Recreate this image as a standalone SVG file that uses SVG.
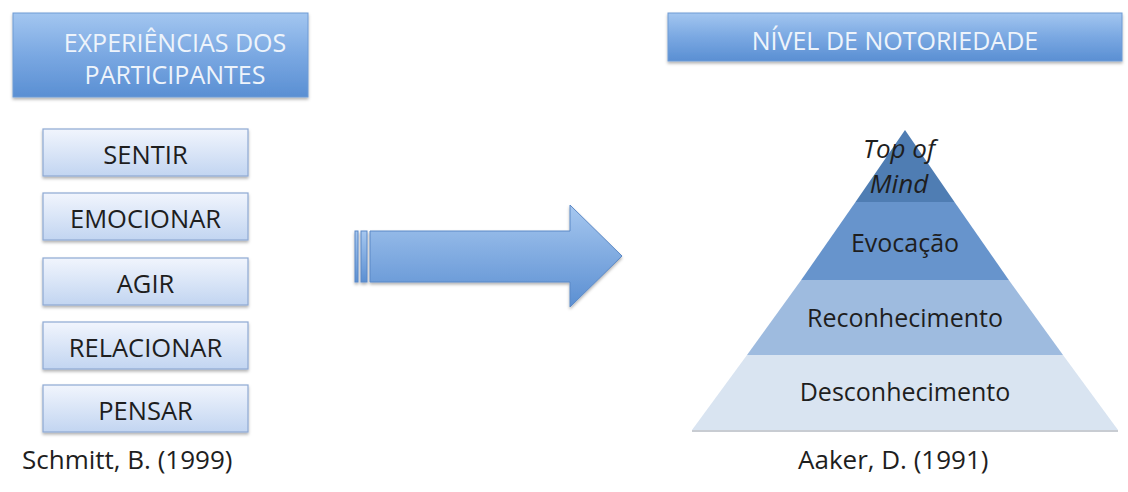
<svg xmlns="http://www.w3.org/2000/svg" width="1128" height="492" viewBox="0 0 1128 492">
<defs>
<linearGradient id="hdr" x1="0" y1="0" x2="0" y2="1">
<stop offset="0" stop-color="#a3c6f0"/>
<stop offset="0.5" stop-color="#7aa8e2"/>
<stop offset="1" stop-color="#5a8fd3"/>
</linearGradient>
<linearGradient id="box" x1="0" y1="0" x2="0" y2="1">
<stop offset="0" stop-color="#f1f5fd"/>
<stop offset="1" stop-color="#c2d5f1"/>
</linearGradient>
<linearGradient id="arr" x1="0" y1="0" x2="0" y2="1">
<stop offset="0" stop-color="#a6c7ef"/>
<stop offset="1" stop-color="#5b8fd2"/>
</linearGradient>
<filter id="sh" x="-10%" y="-20%" width="120%" height="150%">
<feDropShadow dx="0" dy="2" stdDeviation="1.5" flood-color="#000" flood-opacity="0.3"/>
</filter>
</defs>
<style>
text{font-family:"Open Sans","Liberation Sans",sans-serif;text-anchor:middle}
.h{fill:#eef4fb;font-size:25px}
.b{fill:#1e1e1e;font-size:25.5px}
.p{fill:#1e1e1e;font-size:25px}
.i{fill:#1e1e1e;font-size:26px;font-style:italic}
.c{fill:#1e1e1e;font-size:26px;text-anchor:start}
.hb{fill:url(#hdr);stroke:#6f9bd4;stroke-width:1;filter:url(#sh)}
.sb{fill:url(#box);stroke:#8ea9d3;stroke-width:1.2;filter:url(#sh)}
</style>
<g id="header-left">
<rect class="hb" x="13" y="13" width="295" height="84"/>
<text class="h" x="175" y="52">EXPERIÊNCIAS DOS</text>
<text class="h" x="175" y="84">PARTICIPANTES</text>
</g>
<g id="header-right">
<rect class="hb" x="668" y="13" width="454" height="48"/>
<text class="h" x="895" y="50" font-size="24.5">NÍVEL DE NOTORIEDADE</text>
</g>
<g id="sentir">
<rect class="sb" x="43" y="129" width="205" height="47"/>
<text class="b" x="145.5" y="164">SENTIR</text>
</g>
<g id="emocionar">
<rect class="sb" x="43" y="193" width="205" height="47"/>
<text class="b" x="145.5" y="228">EMOCIONAR</text>
</g>
<g id="agir">
<rect class="sb" x="43" y="258" width="205" height="47"/>
<text class="b" x="145.5" y="293">AGIR</text>
</g>
<g id="relacionar">
<rect class="sb" x="43" y="322" width="205" height="47"/>
<text class="b" x="145.5" y="357">RELACIONAR</text>
</g>
<g id="pensar">
<rect class="sb" x="43" y="385" width="205" height="47"/>
<text class="b" x="145.5" y="420">PENSAR</text>
</g>
<g id="connectors">
<g filter="url(#sh)" fill="url(#arr)" stroke="#5a88c6" stroke-width="1">
<rect x="355" y="231" width="3" height="51"/>
<rect x="361" y="231" width="6" height="51"/>
<path d="M370 231 H570 V205 L622 256 L570 307 V282 H370 Z"/>
</g>
</g>
<g id="pyramid">
<g id="top-of-mind">
<path d="M905 130 L954.5 202 L855.5 202 Z" fill="#4f7db3"/>
<text class="i" x="899" y="158">Top of</text>
<text class="i" x="899" y="193">Mind</text>
</g>
<g id="evocacao">
<path d="M855.5 202 H954.5 L1008.8 280 H801.2 Z" fill="#6794cc"/>
<text class="p" x="905" y="252">Evocação</text>
</g>
<g id="reconhecimento">
<path d="M801.2 280 H1008.8 L1063.0 355 H747.0 Z" fill="#9ebbdf"/>
<text class="p" x="905" y="327">Reconhecimento</text>
</g>
<g id="desconhecimento">
<path d="M747.0 355 H1063.0 L1118 430 H692 Z" fill="#d9e4f1"/>
<text class="p" x="905" y="401">Desconhecimento</text>
</g>
<line x1="692" y1="431" x2="1118" y2="431" stroke="#c8ccd2" stroke-width="2"/>
</g>
<g id="citations">
<text class="c" x="22" y="469">Schmitt, B. (1999)</text>
<text class="c" x="798" y="469">Aaker, D. (1991)</text>
</g>
</svg>
